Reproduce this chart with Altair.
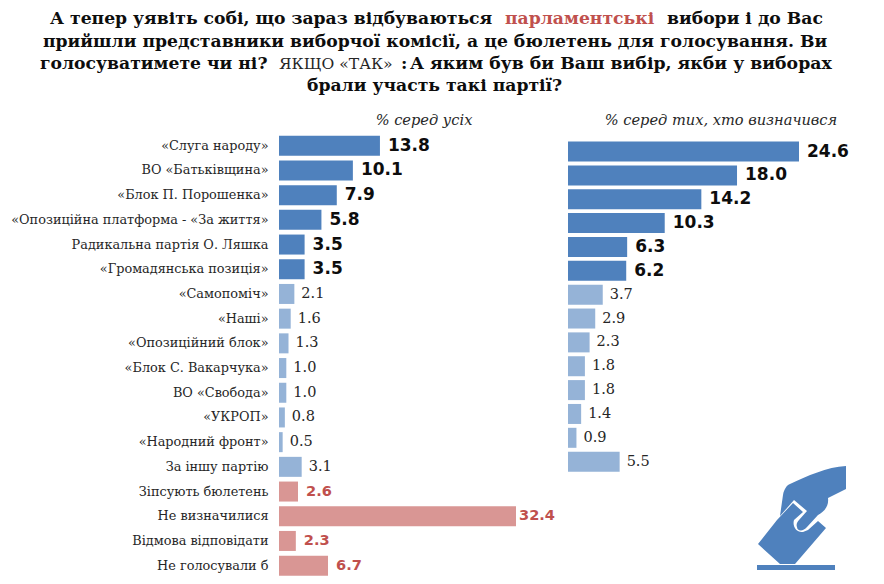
import altair as alt
import pandas as pd

categories = ["«Слуга народу»", "ВО «Батьківщина»", "«Блок П. Порошенка»", "«Опозиційна платформа - «За життя»",
              "Радикальна партія О. Ляшка", "«Громадянська позиція»", "«Самопоміч»", "«Наші»", "«Опозиційний блок»",
              "«Блок С. Вакарчука»", "ВО «Свобода»", "«УКРОП»", "«Народний фронт»", "За іншу партію",
              "Зіпсують бюлетень", "Не визначилися", "Відмова відповідати", "Не голосували б"]
all_values = [13.8, 10.1, 7.9, 5.8, 3.5, 3.5, 2.1, 1.6, 1.3, 1.0, 1.0, 0.8, 0.5, 3.1, 2.6, 32.4, 2.3, 6.7]
decided_values = [24.6, 18.0, 14.2, 10.3, 6.3, 6.2, 3.7, 2.9, 2.3, 1.8, 1.8, 1.4, 0.9, 5.5]
groups = ["top"] * 6 + ["rest"] * 8 + ["off"] * 4

BLUE, LIGHT, PINK, RED = "#4f81bd", "#95b3d7", "#d99694", "#c0504d"
SERIF = "DejaVu Serif"
SANS = "DejaVu Sans"

left = pd.DataFrame({"party": categories, "v": all_values, "g": groups})
left["label"] = left.v.map(lambda v: f"{v:.1f}")
right = pd.DataFrame({"party": categories[:14], "v": decided_values, "g": groups[:14]})
right["label"] = right.v.map(lambda v: f"{v:.1f}")

xL = alt.X("v:Q", axis=None, scale=alt.Scale(domain=[0, 32.4], range=[0, 237]))
xR = alt.X("v:Q", axis=None, scale=alt.Scale(domain=[0, 24.6], range=[289, 520]))
yL = alt.Y("party:N", sort=categories, title=None,
           scale=alt.Scale(domain=categories, range=[125.4, 570], paddingInner=0.19, paddingOuter=0.095),
           axis=alt.Axis(domain=False, ticks=False, labelPadding=11, labelFont=SERIF, labelFontSize=12.85,
                         labelColor="#262626", labelLimit=300, grid=False))
yLn = alt.Y("party:N", sort=categories, axis=None,
            scale=alt.Scale(domain=categories, range=[125.4, 570], paddingInner=0.19, paddingOuter=0.095))
yR = alt.Y("party:N", sort=categories[:14], axis=None,
           scale=alt.Scale(domain=categories[:14], range=[131.6, 465.6], paddingInner=0.16, paddingOuter=0.08))

layers = []
bar_colors = {"top": BLUE, "rest": LIGHT, "off": PINK}
styles = {"top": dict(font=SANS, fontWeight="bold", fontSize=17, color="#0d0d0d"),
          "rest": dict(font=SERIF, fontWeight="normal", fontSize=14.5, color="#262626"),
          "off": dict(font=SANS, fontWeight="bold", fontSize=14.6, color=RED)}

for df, x, y, yn in ((left, xL, yL, yLn), (right, xR, yR, yR)):
    for g in ["top", "rest", "off"]:
        d = df[df.g == g]
        if d.empty:
            continue
        layers.append(alt.Chart(d).mark_bar(size=20, color=bar_colors[g]).encode(
            x=x, y=(y if g == "top" else yn)))
        if g == "off":
            # the longest bar's label sits tight against its bar in the reference
            near = d[d.v > 30]
            layers.append(alt.Chart(near).mark_text(align="left", baseline="middle", dx=3, **styles[g]).encode(
                x=x, y=yn, text="label:N"))
            d = d[d.v <= 30]
        dx = {"top": 8, "rest": 7, "off": 8}[g]
        layers.append(alt.Chart(d).mark_text(align="left", baseline="middle", dx=dx, **styles[g]).encode(
            x=x, y=yn, text="label:N"))

heading_text = [
    ("А тепер уявіть собі, що зараз відбуваються", "#0d0d0d", "bold", 17.2, 50, 19),
    ("парламентські", RED, "bold", 17.2, 505, 19),
    ("вибори і до Вас", "#0d0d0d", "bold", 17.2, 667, 19),
    ("прийшли представники виборчої комісії, а це бюлетень для голосування. Ви", "#0d0d0d", "bold", 17.2, 43, 42),
    ("голосуватимете чи ні?", "#0d0d0d", "bold", 17.2, 40, 64),
    ("ЯКЩО «ТАК»", "#262626", "normal", 15.6, 279, 64),
    (":", "#0d0d0d", "bold", 17.2, 401, 64),
    ("А яким був би Ваш вибір, якби у виборах", "#0d0d0d", "bold", 17.3, 410, 64),
    ("брали участь такі партії?", "#0d0d0d", "bold", 17.2, 307, 86),
]
for s, c, w, fs, px, py in heading_text:
    layers.append(alt.Chart(pd.DataFrame({"t": [s]})).mark_text(
        align="left", baseline="middle", font=SERIF, fontSize=fs, fontWeight=w, color=c).encode(
        x=alt.value(px - 279), y=alt.value(py - 8), text="t:N"))

column_heads = [("% серед усіх", 424, 121), ("% серед тих, хто визначився", 721, 121)]
for s, px, py in column_heads:
    layers.append(alt.Chart(pd.DataFrame({"t": [s]})).mark_text(
        align="center", baseline="middle", font=SERIF, fontSize=14.6, fontStyle="italic", color="#262626").encode(
        x=alt.value(px - 279), y=alt.value(py - 8), text="t:N"))

hand = ("M44 -52 L44 -29 L26 -20 C27 -12 23 -7 16 -3 L5 9 C1 14 -5 13 -5 9 C-6 7 -5 4 -3 2 L5 -7 L-8 -18 "
        "L-22 -2 L-19 -23 C-18 -29 -15 -33 -12 -34 C5 -42 25 -51 44 -52 Z")
ballot = ("M-25 2 L-9 -15 L1 -6 L-8 2 C-10 9 -5 15 1 14 L6 12 L16 3 L24 10 L-7 46 L-22 46 L-44 26 Z")
base = "M-45 47 L33 47 L33 52 L-45 52 Z"
for p in (hand, ballot, base):
    layers.append(alt.Chart(pd.DataFrame({"a": [0]})).mark_point(
        shape=p, size=4, filled=True, fill=BLUE, opacity=1, strokeOpacity=0).encode(
        x=alt.value(802 - 279), y=alt.value(518 - 8)))

chart = alt.layer(*layers).resolve_scale(x="independent", y="independent").properties(
    width=597, height=568,
    padding={"left": 271, "top": 0, "right": 0, "bottom": 0},
    autosize=alt.AutoSizeParams(type="none"),
    background="white",
).configure_view(stroke=None)

chart.save("out.html", embed_options={"renderer": "svg", "actions": False})
